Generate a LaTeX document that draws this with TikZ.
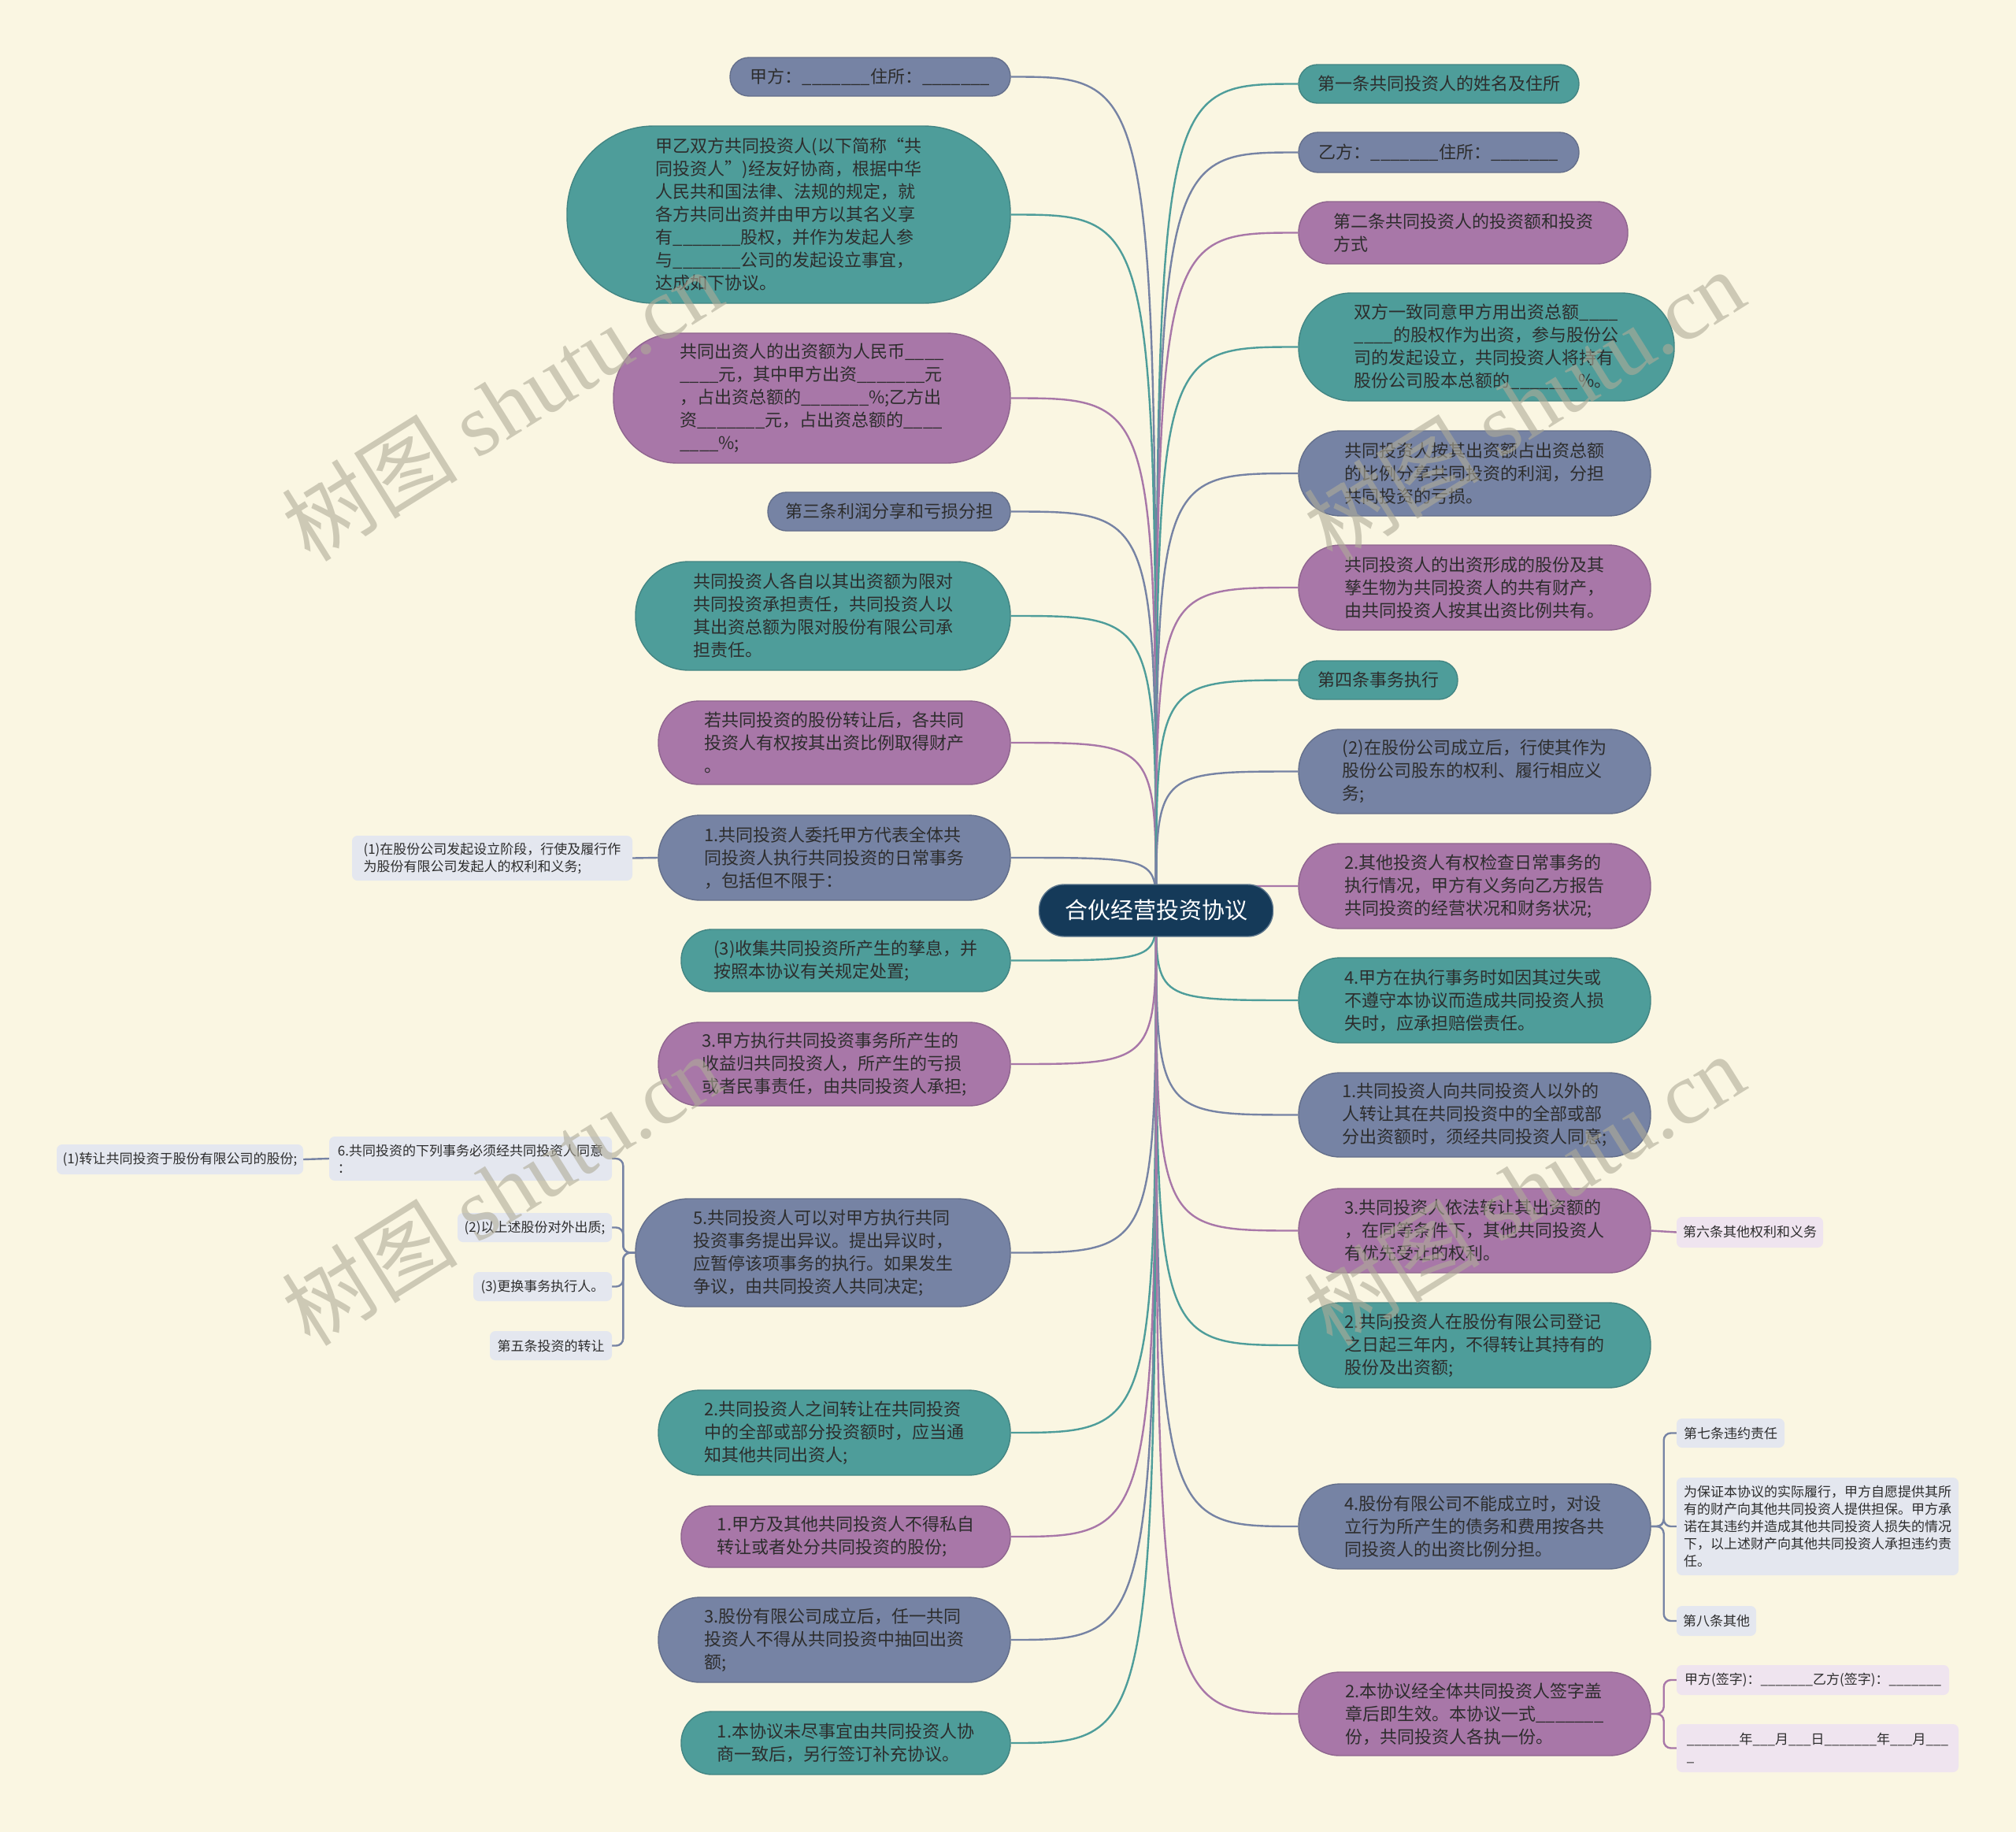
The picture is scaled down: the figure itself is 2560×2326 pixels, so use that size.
\documentclass[tikz,border=0pt]{standalone}
\usepackage{fontspec}
\setmainfont{Noto Sans CJK SC}
\newfontfamily\wmlatin{Liberation Serif}
\newfontfamily\wmcjk{Noto Sans CJK SC}
\usetikzlibrary{backgrounds}
\definecolor{bgc}{RGB}{250,246,226}
\definecolor{tealc}{RGB}{78,157,154}
\definecolor{purpc}{RGB}{168,119,168}
\definecolor{slatec}{RGB}{118,131,164}
\definecolor{navyc}{RGB}{21,58,89}
\definecolor{lgrayc}{RGB}{228,231,239}
\definecolor{lpinkc}{RGB}{239,228,239}
\definecolor{txtc}{RGB}{45,45,45}
\definecolor{wmc}{RGB}{175,171,152}
\newcommand\usfour{\_\_\_\_}
\newcommand\usthree{\_\_\_}
\newcommand\useight{\_\_\_\_\_\_\_}
\newcommand\usseven{\_\_\_\_\_\_\_}
\newcommand\mybox[7]{%
  \pgfmathsetmacro\bw{#5-#3}\pgfmathsetmacro\bh{#6-#4}\pgfmathsetmacro\br{min(0.49*\bh,110)}%
  \node[#2, minimum width=\bw pt, minimum height=\bh pt, rounded corners=\br pt] (#1) at ({(#3+#5)/2},{(#4+#6)/2}) {#7};}
\newcommand\smbox[7]{%
  \pgfmathsetmacro\bw{#5-#3}\pgfmathsetmacro\bh{#6-#4}%
  \node[#2, minimum width=\bw pt, minimum height=\bh pt] (#1) at ({(#3+#5)/2},{(#4+#6)/2}) {#7};}
\tikzset{
  bigtext/.style={font=\fontsize{22}{29}\selectfont, text=txtc, align=left, inner sep=0pt, line width=1.4},
  tealn/.style={bigtext, fill=tealc, draw=tealc!85!black},
  purpn/.style={bigtext, fill=purpc, draw=purpc!85!black},
  slaten/.style={bigtext, fill=slatec, draw=slatec!85!black},
  smalltext/.style={font=\fontsize{17}{22}\selectfont, text=txtc, align=left, inner sep=0pt, rounded corners=7},
  grayn/.style={smalltext, fill=lgrayc},
  pinkn/.style={smalltext, fill=lpinkc},
  ew/.style={line width=2.4},
  wmark/.style={rotate=32, text=wmc, opacity=0.6, font=\fontsize{112}{112}\selectfont, inner sep=0pt}
}
\newcommand\ledge[2]{\draw[ew,#2] (C.center) .. controls (C.center |- #1.east) .. (#1.east);}
\newcommand\redge[2]{\draw[ew,#2] (C.center) .. controls (C.center |- #1.west) .. (#1.west);}
\begin{document}
\begin{tikzpicture}[x=1pt,y=-1pt]
\useasboundingbox (0,0) rectangle (2560,2326);
% centre
\node[fill=navyc, draw=navyc!70!white, line width=1.4, text=white, rounded corners=32pt, minimum width=297pt, minimum height=66pt, inner sep=0pt, font=\fontsize{29}{34}\selectfont] (C) at (1468,1156) {合伙经营投资协议};
% left side
\mybox{L1}{slaten}{927}{73}{1283}{122}{甲方：\useight 住所：\useight}
\mybox{L2}{tealn}{720}{160}{1283}{385}{甲乙双方共同投资人(以下简称“共\\同投资人”)经友好协商，根据中华\\人民共和国法律、法规的规定，就\\各方共同出资并由甲方以其名义享\\有\useight 股权，并作为发起人参\\与\useight 公司的发起设立事宜，\\达成如下协议。}
\mybox{L3}{purpn}{779}{423}{1283}{588}{共同出资人的出资额为人民币\usfour\\\usfour 元，其中甲方出资\useight 元\\，占出资总额的\useight\%;乙方出\\资\useight 元，占出资总额的\usfour\\\usfour\%;}
\mybox{L4}{slaten}{975}{625}{1283}{674}{第三条利润分享和亏损分担}
\mybox{L5}{tealn}{807}{713}{1283}{851}{共同投资人各自以其出资额为限对\\共同投资承担责任，共同投资人以\\其出资总额为限对股份有限公司承\\担责任。}
\mybox{L6}{purpn}{836}{890}{1283}{996}{若共同投资的股份转让后，各共同\\投资人有权按其出资比例取得财产\\。}
\mybox{L7}{slaten}{836}{1035}{1283}{1143}{1.共同投资人委托甲方代表全体共\\同投资人执行共同投资的日常事务\\，包括但不限于：}
\smbox{L7c}{grayn}{447}{1061}{803}{1118}{(1)在股份公司发起设立阶段，行使及履行作\\为股份有限公司发起人的权利和义务;}
\mybox{L8}{tealn}{865}{1180}{1283}{1259}{(3)收集共同投资所产生的孳息，并\\按照本协议有关规定处置;}
\mybox{L9}{purpn}{836}{1298}{1283}{1404}{3.甲方执行共同投资事务所产生的\\收益归共同投资人，所产生的亏损\\或者民事责任，由共同投资人承担;}
\mybox{L10}{slaten}{807}{1522}{1283}{1659}{5.共同投资人可以对甲方执行共同\\投资事务提出异议。提出异议时，\\应暂停该项事务的执行。如果发生\\争议，由共同投资人共同决定;}
\smbox{L10a}{grayn}{418}{1443}{777}{1499}{6.共同投资的下列事务必须经共同投资人同意\\：}
\smbox{L10a1}{grayn}{72}{1453}{385}{1491}{(1)转让共同投资于股份有限公司的股份;}
\smbox{L10b}{grayn}{581}{1540}{777}{1577}{(2)以上述股份对外出质;}
\smbox{L10c}{grayn}{601}{1615}{777}{1652}{(3)更换事务执行人。}
\smbox{L10d}{grayn}{622}{1690}{777}{1727}{第五条投资的转让}
\mybox{L11}{tealn}{836}{1765}{1283}{1873}{2.共同投资人之间转让在共同投资\\中的全部或部分投资额时，应当通\\知其他共同出资人;}
\mybox{L12}{purpn}{865}{1912}{1283}{1990}{1.甲方及其他共同投资人不得私自\\转让或者处分共同投资的股份;}
\mybox{L13}{slaten}{836}{2028}{1283}{2136}{3.股份有限公司成立后，任一共同\\投资人不得从共同投资中抽回出资\\额;}
\mybox{L14}{tealn}{865}{2173}{1283}{2253}{1.本协议未尽事宜由共同投资人协\\商一致后，另行签订补充协议。}
% right side
\mybox{R1}{tealn}{1649}{82}{2005}{131}{第一条共同投资人的姓名及住所}
\mybox{R2}{slaten}{1649}{168}{2005}{219}{乙方：\useight 住所：\useight}
\mybox{R3}{purpn}{1649}{256}{2067}{335}{第二条共同投资人的投资额和投资\\方式}
\mybox{R4}{tealn}{1649}{372}{2126}{509}{双方一致同意甲方用出资总额\usfour\\\usfour 的股权作为出资，参与股份公\\司的发起设立，共同投资人将持有\\股份公司股本总额的\useight\%。}
\mybox{R5}{slaten}{1649}{547}{2096}{655}{共同投资人按其出资额占出资总额\\的比例分享共同投资的利润，分担\\共同投资的亏损。}
\mybox{R6}{purpn}{1649}{692}{2096}{800}{共同投资人的出资形成的股份及其\\孳生物为共同投资人的共有财产，\\由共同投资人按其出资比例共有。}
\mybox{R7}{tealn}{1649}{839}{1851}{888}{第四条事务执行}
\mybox{R8}{slaten}{1649}{926}{2096}{1033}{(2)在股份公司成立后，行使其作为\\股份公司股东的权利、履行相应义\\务;}
\mybox{R9}{purpn}{1649}{1071}{2096}{1179}{2.其他投资人有权检查日常事务的\\执行情况，甲方有义务向乙方报告\\共同投资的经营状况和财务状况;}
\mybox{R10}{tealn}{1649}{1216}{2096}{1324}{4.甲方在执行事务时如因其过失或\\不遵守本协议而造成共同投资人损\\失时，应承担赔偿责任。}
\mybox{R11}{slaten}{1649}{1362}{2096}{1469}{1.共同投资人向共同投资人以外的\\人转让其在共同投资中的全部或部\\分出资额时，须经共同投资人同意;}
\mybox{R12}{purpn}{1649}{1509}{2096}{1616}{3.共同投资人依法转让其出资额的\\，在同等条件下，其他共同投资人\\有优先受让的权利。}
\smbox{R12c}{pinkn}{2129}{1545}{2315}{1584}{第六条其他权利和义务}
\mybox{R13}{tealn}{1649}{1654}{2096}{1762}{2.共同投资人在股份有限公司登记\\之日起三年内，不得转让其持有的\\股份及出资额;}
\mybox{R14}{slaten}{1649}{1884}{2096}{1992}{4.股份有限公司不能成立时，对设\\立行为所产生的债务和费用按各共\\同投资人的出资比例分担。}
\smbox{R14a}{grayn}{2129}{1801}{2266}{1838}{第七条违约责任}
\smbox{R14b}{grayn}{2129}{1876}{2487}{2000}{为保证本协议的实际履行，甲方自愿提供其所\\有的财产向其他共同投资人提供担保。甲方承\\诺在其违约并造成其他共同投资人损失的情况\\下，以上述财产向其他共同投资人承担违约责\\任。}
\smbox{R14c}{grayn}{2129}{2039}{2230}{2077}{第八条其他}
\mybox{R15}{purpn}{1649}{2123}{2096}{2229}{2.本协议经全体共同投资人签字盖\\章后即生效。本协议一式\useight\\份，共同投资人各执一份。}
\smbox{R15a}{pinkn}{2129}{2114}{2475}{2152}{甲方(签字)：\usseven 乙方(签字)：\usseven}
\smbox{R15b}{pinkn}{2129}{2189}{2487}{2250}{\usseven 年\usthree 月\usthree 日\usseven 年\usthree 月\usthree\\\_}
% background and connectors
\begin{scope}[on background layer]
\fill[bgc] (0,0) rectangle (2560,2326);
\ledge{L1}{slatec}
\ledge{L2}{tealc}
\ledge{L3}{purpc}
\ledge{L4}{slatec}
\ledge{L5}{tealc}
\ledge{L6}{purpc}
\ledge{L7}{slatec}
\ledge{L8}{tealc}
\ledge{L9}{purpc}
\ledge{L10}{slatec}
\ledge{L11}{tealc}
\ledge{L12}{purpc}
\ledge{L13}{slatec}
\ledge{L14}{tealc}
\redge{R1}{tealc}
\redge{R2}{slatec}
\redge{R3}{purpc}
\redge{R4}{tealc}
\redge{R5}{slatec}
\redge{R6}{purpc}
\redge{R7}{tealc}
\redge{R8}{slatec}
\redge{R9}{purpc}
\redge{R10}{tealc}
\redge{R11}{slatec}
\redge{R12}{purpc}
\redge{R13}{tealc}
\redge{R14}{slatec}
\redge{R15}{purpc}
\draw[ew,slatec] (L7.west) -- (L7c.east);
\draw[ew,slatec] (L10a.west) -- (L10a1.east);
\foreach \c in {L10a,L10b,L10c,L10d}
  \draw[ew,slatec,rounded corners=9] (L10.west) -- ++(-15,0) |- (\c.east);
\draw[ew,purpc] (R12.east) -- (R12c.west);
\foreach \c in {R14a,R14b,R14c}
  \draw[ew,slatec,rounded corners=9] (R14.east) -- ++(16,0) |- (\c.west);
\foreach \c in {R15a,R15b}
  \draw[ew,purpc,rounded corners=9] (R15.east) -- ++(16,0) |- (\c.west);
\end{scope}
% watermarks
\node[wmark] (W1) at (637,514) {\wmcjk 树图\ \wmlatin shutu.cn};
\node[wmark] (W2) at (1935,514) {\wmcjk 树图\ \wmlatin shutu.cn};
\node[wmark] (W3) at (637,1510) {\wmcjk 树图\ \wmlatin shutu.cn};
\node[wmark] (W4) at (1935,1510) {\wmcjk 树图\ \wmlatin shutu.cn};
\end{tikzpicture}
\end{document}
